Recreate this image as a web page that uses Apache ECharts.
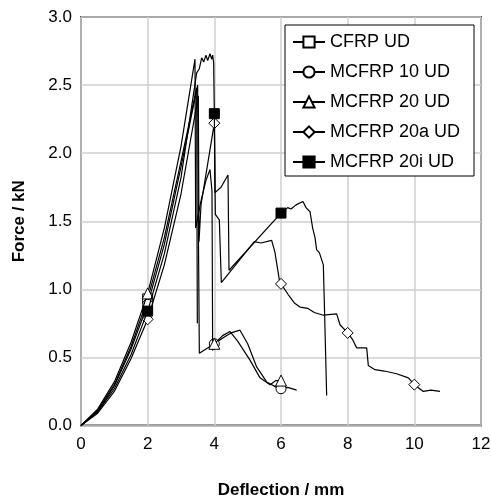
<!DOCTYPE html>
<html>
<head>
<meta charset="utf-8">
<script src="https://cdn.jsdelivr.net/npm/echarts@6/dist/echarts.min.js"></script>
<style>
html,body{margin:0;padding:0;background:#fff;}
#chart{width:491px;height:497px;}
</style>
</head>
<body>
<div id="chart"></div>
<script>
// deflection (mm), force (kN)
var cfrpUD = [[0,0],[0.5,0.11],[1,0.3],[1.5,0.58],[2,0.93],[2.5,1.38],[3,1.94],[3.47,2.48],[3.48,1.5],[3.49,0.75]];
var mcfrp10 = [[0,0],[0.5,0.1],[1,0.29],[1.5,0.56],[2,0.89],[2.5,1.33],[3,1.9],[3.5,2.5],[3.52,1.5],[3.55,0.53],[4,0.6],[4.3,0.65],[4.5,0.68],[4.77,0.7],[5,0.6],[5.27,0.43],[5.57,0.32],[5.87,0.28],[6,0.27],[6.2,0.28],[6.47,0.26]];
var mcfrp20 = [[0,0],[0.5,0.12],[1,0.32],[1.5,0.61],[2,0.97],[2.5,1.45],[3,2.05],[3.42,2.69],[3.44,1.45],[3.6,1.65],[3.75,1.8],[3.87,1.88],[3.93,1.72],[3.95,0.55],[4,0.6],[4.25,0.66],[4.47,0.69],[4.7,0.62],[5.07,0.48],[5.37,0.35],[5.67,0.3],[5.85,0.33],[6,0.33],[6.05,0.32]];
var mcfrp20a = [[0,0],[0.5,0.09],[1,0.25],[1.5,0.49],[2,0.78],[2.5,1.18],[3,1.7],[3.52,2.42],[3.54,1.35],[3.6,1.62],[4,2.22],[4.03,1.55],[4.15,1.51],[4.21,1.05],[5.2,1.35],[5.4,1.34],[5.72,1.36],[5.82,1.27],[5.95,1.07],[6,1.04],[6.22,0.96],[6.4,0.9],[6.57,0.87],[6.81,0.86],[7.0,0.83],[7.27,0.81],[7.67,0.82],[7.77,0.74],[8,0.68],[8.15,0.63],[8.27,0.57],[8.57,0.57],[8.62,0.44],[8.82,0.41],[9.1,0.4],[9.47,0.38],[9.82,0.35],[10,0.3],[10.27,0.25],[10.5,0.26],[10.77,0.25]];
var mcfrp20i = [[0,0],[0.5,0.1],[1,0.27],[1.5,0.52],[2,0.84],[2.5,1.26],[3,1.82],[3.47,2.59],[3.55,2.62],[3.62,2.7],[3.68,2.67],[3.75,2.72],[3.8,2.68],[3.87,2.73],[3.92,2.69],[3.95,2.72],[3.98,2.66],[4,2.29],[4.02,1.71],[4.2,1.75],[4.41,1.84],[4.44,1.14],[6,1.56],[6.1,1.58],[6.2,1.6],[6.3,1.59],[6.45,1.62],[6.66,1.645],[6.75,1.6],[6.87,1.57],[6.95,1.45],[7.02,1.38],[7.07,1.29],[7.15,1.27],[7.27,1.18],[7.3,0.9],[7.37,0.22]];

var seriesNames = ['CFRP UD','MCFRP 10 UD','MCFRP 20 UD','MCFRP 20a UD','MCFRP 20i UD'];
var seriesData = [cfrpUD, mcfrp10, mcfrp20, mcfrp20a, mcfrp20i];
var symbols = ['rect','circle','triangle','diamond','rect'];
var fills = ['#fff','#fff','#fff','#fff','#000'];
var sizes = [10,10,11,11,10];
// deflections where the markers sit
var markerX = [[2],[2,4,6],[2,4,6],[2,4,6,8,10],[2,4,6]];

var xTicks = [0,2,4,6,8,10,12];
var yTicks = [0,0.5,1,1.5,2,2.5,3];

var font = 'Liberation Sans, Arial, sans-serif';

function withMarkers(pts, mx){
	return pts.map(function(p){
		if(mx.indexOf(p[0]) >= 0) return {value:p};
		return {value:p, symbol:'none'};
	});
}

var series = [];
for(var i=0;i<seriesData.length;i++){
	series.push({
		name:seriesNames[i],
		type:'line',
		data:withMarkers(seriesData[i], markerX[i]),
		symbol:symbols[i],
		symbolSize:sizes[i],
		showSymbol:true,
		animation:false,
		lineStyle:{color:'#000',width:1.2},
		itemStyle:{color:fills[i],borderColor:'#000',borderWidth:1},
		z:2+i
	});
}

var myChart = echarts.init(document.getElementById('chart'));
var option = {
	backgroundColor:'#fff',
	animation:false,
	grid:{left:81,right:10,top:17,bottom:71.5,outerBoundsMode:'none',containLabel:false,show:true,borderColor:'#3a3a3a',borderWidth:1.8,backgroundColor:'transparent'},
	legend:{
		orient:'vertical',
		left:285,
		top:25,
		padding:[8,14,5,7],
		itemGap:12,
		itemWidth:32,
		itemHeight:14,
		borderColor:'#000',
		borderWidth:1,
		borderRadius:0,
		backgroundColor:'#fff',
		data:seriesNames,
		textStyle:{fontFamily:font,fontSize:18,color:'#000'}
	},
	xAxis:{
		type:'value',
		min:xTicks[0],
		max:xTicks[xTicks.length-1],
		interval:2,
		name:'Deflection / mm',
		nameLocation:'middle',
		nameGap:56,
		nameTextStyle:{fontFamily:font,fontWeight:'bold',fontSize:17,color:'#000'},
		axisLine:{show:false},
		axisTick:{show:false},
		axisLabel:{fontFamily:font,fontSize:17,color:'#000',margin:10},
		splitLine:{show:true,lineStyle:{color:'#cfcfcf',width:1.5}}
	},
	yAxis:{
		type:'value',
		min:yTicks[0],
		max:yTicks[yTicks.length-1],
		interval:0.5,
		name:'Force / kN',
		nameLocation:'middle',
		nameGap:53,
		nameRotate:90,
		nameTextStyle:{fontFamily:font,fontWeight:'bold',fontSize:17,color:'#000'},
		axisLine:{show:false},
		axisTick:{show:false},
		axisLabel:{fontFamily:font,fontSize:17,color:'#000',margin:9,formatter:function(v){return v.toFixed(1);}},
		splitLine:{show:true,lineStyle:{color:'#cfcfcf',width:1.5}}
	},
	series:series
};
myChart.setOption(option);
</script>
</body>
</html>
